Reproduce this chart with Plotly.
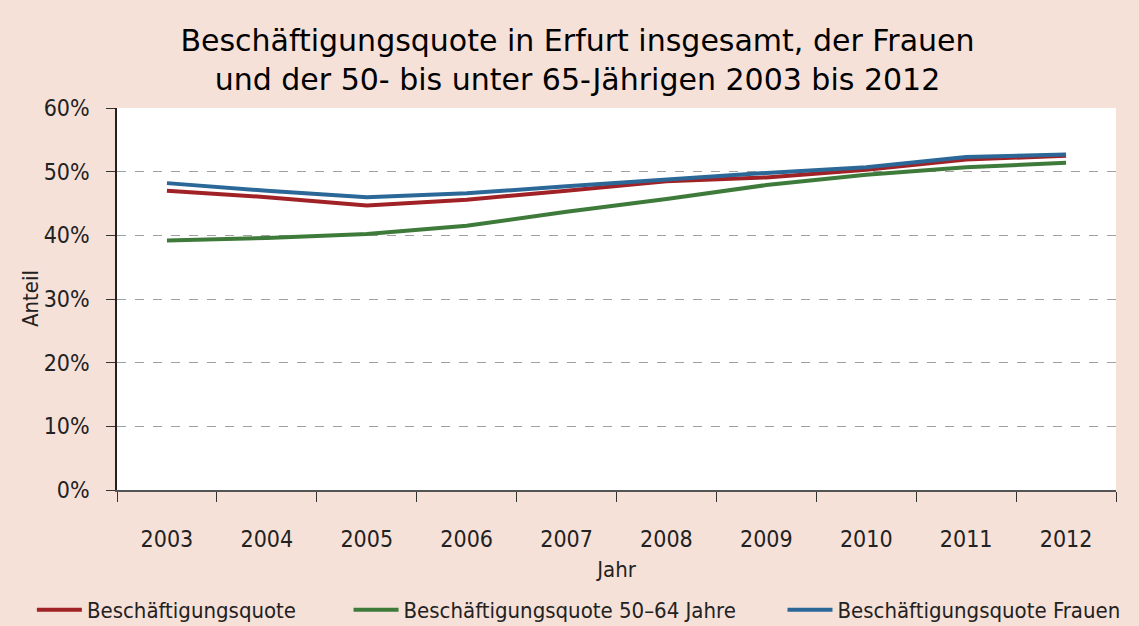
import plotly.graph_objects as go

years = ["2003", "2004", "2005", "2006", "2007", "2008", "2009", "2010", "2011", "2012"]
quote_gesamt = [47.0, 46.0, 44.7, 45.6, 47.0, 48.5, 49.1, 50.3, 51.9, 52.5]
quote_50_64 = [39.2, 39.6, 40.2, 41.5, 43.7, 45.7, 47.9, 49.5, 50.7, 51.4]
quote_frauen = [48.2, 47.0, 46.0, 46.6, 47.7, 48.8, 49.8, 50.7, 52.3, 52.7]
y_ticks = [0, 10, 20, 30, 40, 50, 60]
y_labels = ["0%", "10%", "20%", "30%", "40%", "50%", "60%"]

bg = "#F6E1D9"
cond = "DejaVu Sans Condensed, sans-serif"

fig = go.Figure()
series = [
    ("Beschäftigungsquote", quote_gesamt, "#A02226", "legend"),
    ("Beschäftigungsquote 50–64 Jahre", quote_50_64, "#3E7B3B", "legend2"),
    ("Beschäftigungsquote Frauen", quote_frauen, "#2B6898", "legend3"),
]
for name, vals, col, lg in series:
    fig.add_trace(go.Scatter(x=years, y=vals, name=name, mode="lines", legend=lg,
                             line=dict(color=col, width=4)))

leg_common = dict(orientation="h", xref="container", yref="paper", xanchor="left",
                  y=-0.314, yanchor="middle", itemwidth=45,
                  font=dict(family=cond, size=22, color="#222"), bgcolor="rgba(0,0,0,0)")

fig.update_layout(
    width=1139, height=626,
    paper_bgcolor=bg, plot_bgcolor="white",
    margin=dict(l=117, r=23, t=108, b=136, autoexpand=False),
    title=dict(text="Beschäftigungsquote in Erfurt insgesamt, der Frauen<br>und der 50- bis unter 65-Jährigen 2003 bis 2012",
               x=0.507, xanchor="center", y=0.919, yanchor="middle",
               font=dict(family="DejaVu Sans", size=30, color="black")),
    font=dict(family=cond, size=22, color="#222"),
    showlegend=True,
    legend=dict(x=0.028, **leg_common),
    legend2=dict(x=0.306, **leg_common),
    legend3=dict(x=0.687, **leg_common),
)
fig.add_annotation(text="Anteil", xref="paper", yref="paper", x=-0.087, y=0.5,
                   xanchor="center", yanchor="middle", textangle=-90, showarrow=False,
                   font=dict(family=cond, size=22, color="#222"))
fig.update_xaxes(type="category", range=[-0.5, 9.5], tickson="boundaries", ticks="outside",
                 ticklen=10, tickcolor="#333", showline=True, linecolor="#555", linewidth=1.5,
                 showgrid=False, ticklabelstandoff=28, automargin=False,
                 tickfont=dict(family=cond, size=23, color="#222"),
                 title=dict(text="Jahr", standoff=10, font=dict(family=cond, size=22)))
fig.update_yaxes(range=[0, 60], tickvals=y_ticks, ticktext=y_labels, ticks="outside",
                 ticklen=9, tickcolor="#333", showline=True, linecolor="#222", linewidth=1.5,
                 showgrid=True, gridcolor="#A0A0A0", griddash="dash", gridwidth=1,
                 zeroline=False, ticklabelstandoff=12, automargin=False,
                 tickfont=dict(family=cond, size=23, color="#222"))

fig.write_html("out.html", config={"displayModeBar": False},
               post_script="document.body.style.margin='0';document.body.style.overflow='hidden';")
